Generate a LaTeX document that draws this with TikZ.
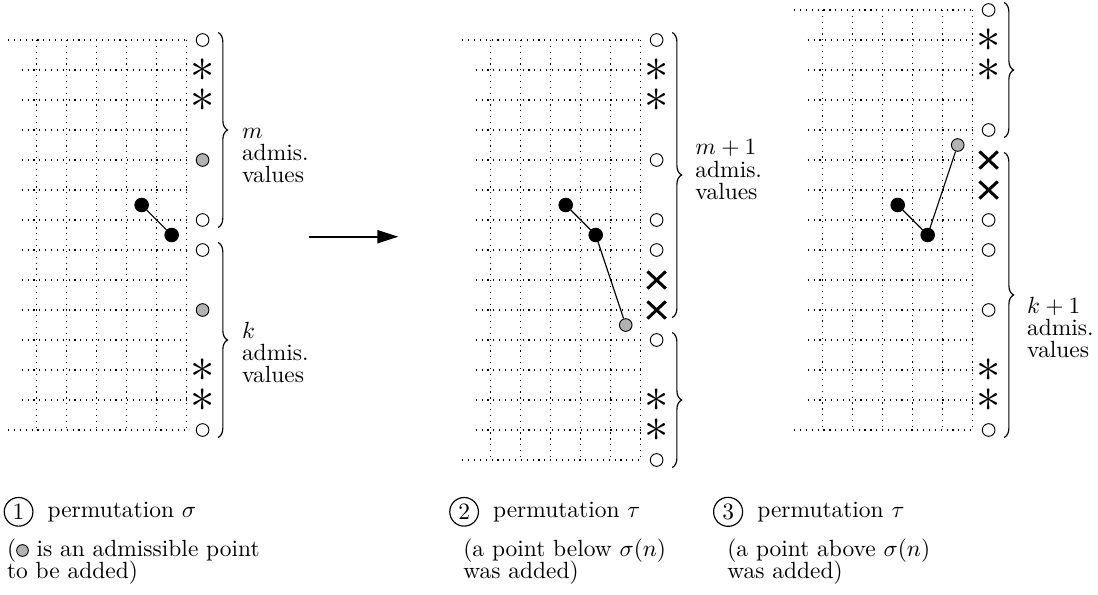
\documentclass[tikz,border=0pt]{standalone}
\usepackage{tikz}
\usetikzlibrary{arrows.meta,positioning,decorations.pathreplacing,shapes.misc}

\begin{document}
\begin{tikzpicture}[
    x=0.45cm, y=-0.45cm,
    node distance=2.5pt,
    gridline/.style={dotted, line width=0.5pt},
    elem/.style={circle, draw, fill=black, inner sep=0pt, minimum size=5.8pt},
    admmark/.style={circle, draw, fill=black!30, inner sep=0pt, minimum size=5.4pt, line width=0.4pt},
    freemark/.style={circle, draw, fill=white, inner sep=0pt, minimum size=5.4pt, line width=0.4pt},
    starmark/.style={inner sep=0pt, font=\huge},
    crossmark/.style={cross out, draw, line width=1.3pt, inner sep=0pt, minimum width=6.5pt, minimum height=6pt},
    link/.style={line width=0.5pt},
    admbrace/.style={decorate, decoration={brace, amplitude=4pt}, line width=0.5pt},
    lbl/.style={anchor=west, align=left, inner sep=0pt, font={\fontsize{10}{9.5}\selectfont}},
    num/.style={circle, draw, inner sep=1.4pt, line width=0.5pt},
    note/.style={anchor=north west, align=left, inner sep=0pt, font={\fontsize{10}{9.2}\selectfont\lineskiplimit=-\maxdimen}},
    flow/.style={-{Triangle[length=9pt,width=5.5pt]}, line width=1pt}
  ]
    \useasboundingbox (0,0) rectangle (36.6,19.8);

    % permutation sigma
    \begin{scope}[shift={(1.222,1.333)}]
      \foreach \c in {0,...,5}
        \draw[gridline] (\c,0) -- (\c,13);
      \foreach \r in {1,...,12}
        \draw[gridline] (-0.5,\r) -- (5,\r);
      \foreach \r in {0,13}
        \draw[gridline] (-0.95,\r) -- (5,\r);
      \foreach \r in {0,6,7,13}
        \node[freemark] (s\r) at (5.53,\r) {};
      \foreach \r in {4,9}
        \node[admmark] (s\r) at (5.53,\r) {};
      \foreach \r in {1,2,11,12}
        \node[starmark] (s\r) at (5.53,\r) {$\ast$};
      \node[elem] (s-a) at (3.5,5.5) {};
      \node[elem] (s-b) at (4.5,6.5) {};
      \draw[link] (s-a) -- (s-b);
      \draw[admbrace] (6.05,-0.25) -- (6.05,6.25);
      \draw[admbrace] (6.05,6.75) -- (6.05,13.25);
      \node[lbl] (s-up) at (6.83,3.85) {$m$\\admis.\\values};
      \node[lbl] (s-lo) at (6.83,10.42) {$k$\\admis.\\values};
    \end{scope}

    \coordinate (go-from) at (10.31,7.89);
    \coordinate (go-to) at (13.28,7.89);
    \draw[flow] (go-from) -- (go-to);

    % permutation tau, point below
    \begin{scope}[shift={(16.357,1.333)}]
      \foreach \c in {0,...,5}
        \draw[gridline] (\c,0) -- (\c,14);
      \foreach \r in {1,...,13}
        \draw[gridline] (-0.5,\r) -- (5,\r);
      \foreach \r in {0,14}
        \draw[gridline] (-0.95,\r) -- (5,\r);
      \foreach \r in {0,4,6,7,10,14}
        \node[freemark] (t\r) at (5.53,\r) {};
      \foreach \r in {8,9}
        \node[crossmark] (t\r) at (5.53,\r) {};
      \foreach \r in {1,2,12,13}
        \node[starmark] (t\r) at (5.53,\r) {$\ast$};
      \node[elem] (t-a) at (2.5,5.5) {};
      \node[elem] (t-b) at (3.5,6.5) {};
      \node[admmark] (t-c) at (4.5,9.5) {};
      \draw[link] (t-a) -- (t-b);
      \draw[link] (t-b) -- (t-c);
      \draw[admbrace] (6.05,-0.25) -- (6.05,9.25);
      \draw[admbrace] (6.05,9.75) -- (6.05,14.25);
      \node[lbl] (t-up) at (6.81,4.32) {$m+1$\\admis.\\values};
    \end{scope}

    % permutation tau, point above
    \begin{scope}[shift={(27.423,0.333)}]
      \foreach \c in {0,...,5}
        \draw[gridline] (\c,0) -- (\c,14);
      \foreach \r in {1,...,13}
        \draw[gridline] (-0.5,\r) -- (5,\r);
      \foreach \r in {0,14}
        \draw[gridline] (-0.95,\r) -- (5,\r);
      \foreach \r in {0,4,7,8,10,14}
        \node[freemark] (u\r) at (5.53,\r) {};
      \foreach \r in {5,6}
        \node[crossmark] (u\r) at (5.53,\r) {};
      \foreach \r in {1,2,12,13}
        \node[starmark] (u\r) at (5.53,\r) {$\ast$};
      \node[elem] (u-a) at (2.5,6.5) {};
      \node[elem] (u-b) at (3.5,7.5) {};
      \node[admmark] (u-c) at (4.5,4.5) {};
      \draw[link] (u-a) -- (u-b);
      \draw[link] (u-b) -- (u-c);
      \draw[admbrace] (6.05,-0.25) -- (6.05,4.25);
      \draw[admbrace] (6.05,4.75) -- (6.05,14.25);
      \node[lbl] (u-lo) at (6.8,10.58) {$k+1$\\admis.\\values};
    \end{scope}

    \node[num] (n1) at (0.62,17.06) {1};
    \node[right=of n1] (c1) {permutation $\sigma$};
    \node[note] (d1) at (0.22,17.95) {(\tikz[baseline=-0.6ex]\draw[fill=black!30, line width=0.4pt] (0,0) circle (2.5pt); is an admissible point\\to be added)};

    \node[num] (n2) at (15.47,17.06) {2};
    \node[right=of n2] (c2) {permutation $\tau$};
    \node[note] (d2) at (15.43,17.95) {(a point below $\sigma(n)$\\was added)};

    \node[num] (n3) at (24.27,17.06) {3};
    \node[right=of n3] (c3) {permutation $\tau$};
    \node[note] (d3) at (24.23,17.95) {(a point above $\sigma(n)$\\was added)};
  \end{tikzpicture}
\end{document}
